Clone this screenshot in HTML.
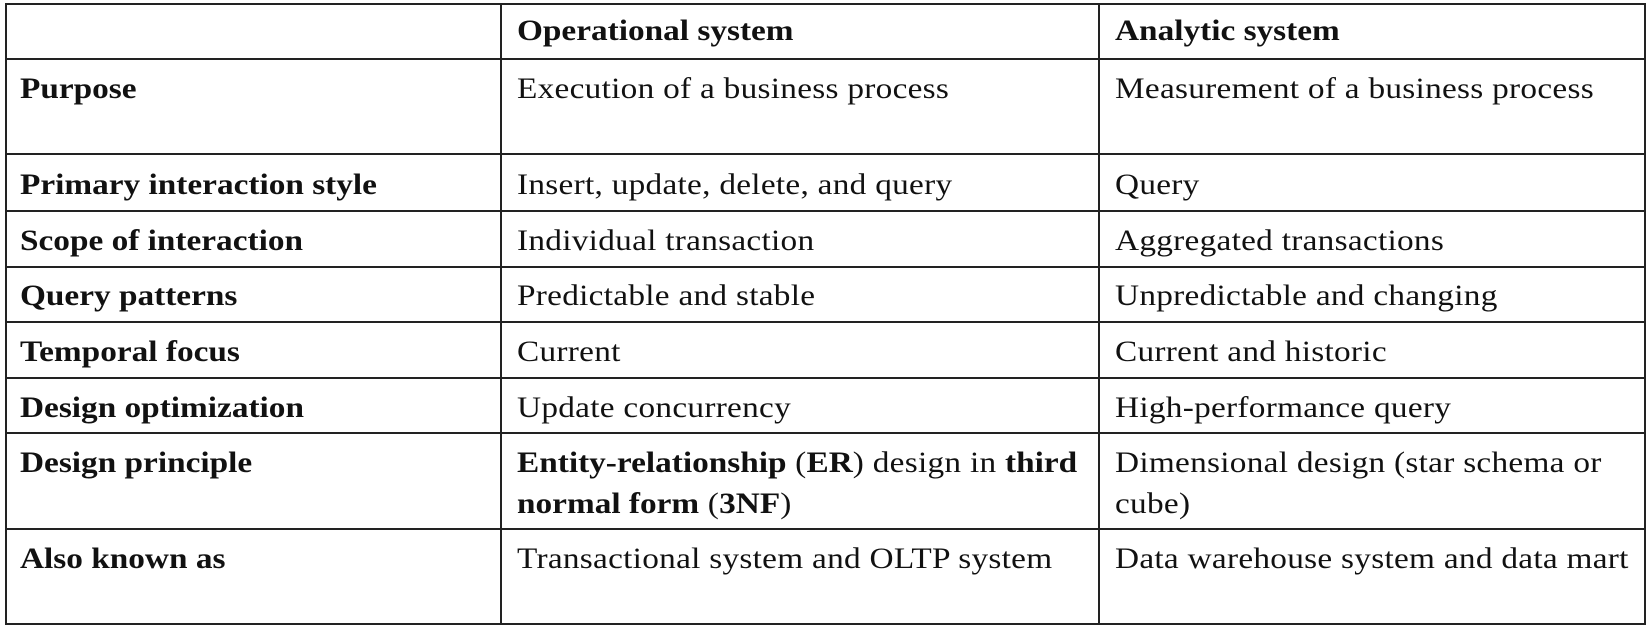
<!DOCTYPE html>
<html><head><meta charset="utf-8"><style>
body{margin:0;width:1650px;height:629px;background:#fff;position:relative;overflow:hidden;font-family:"Liberation Serif",serif;font-size:30px;color:#111}
.h{position:absolute;height:2px;background:#222;left:5px;width:1641px}
.v{position:absolute;width:2px;background:#222;top:3px;height:622px}
.t{position:absolute;line-height:41px;white-space:nowrap;transform:scaleX(1.11);transform-origin:0 0;letter-spacing:0.25px}
b{font-weight:bold;letter-spacing:0}
</style></head><body>
<div class="h" style="top:3px"></div>
<div class="h" style="top:58px"></div>
<div class="h" style="top:153px"></div>
<div class="h" style="top:210px"></div>
<div class="h" style="top:266px"></div>
<div class="h" style="top:321px"></div>
<div class="h" style="top:377px"></div>
<div class="h" style="top:432px"></div>
<div class="h" style="top:528px"></div>
<div class="h" style="top:623px"></div>
<div class="v" style="left:5px"></div>
<div class="v" style="left:500px"></div>
<div class="v" style="left:1098px"></div>
<div class="v" style="left:1644px"></div>

<div class="t" style="left:517px;top:10px"><b>Operational system</b></div>
<div class="t" style="left:1115px;top:10px"><b>Analytic system</b></div>

<div class="t" style="left:20px;top:68px"><b>Purpose</b></div>
<div class="t" style="left:517px;top:68px">Execution of a business process</div>
<div class="t" style="left:1115px;top:68px">Measurement of a business process</div>

<div class="t" style="left:20px;top:164px"><b>Primary interaction style</b></div>
<div class="t" style="left:517px;top:164px">Insert, update, delete, and query</div>
<div class="t" style="left:1115px;top:164px">Query</div>

<div class="t" style="left:20px;top:220px"><b>Scope of interaction</b></div>
<div class="t" style="left:517px;top:220px">Individual transaction</div>
<div class="t" style="left:1115px;top:220px">Aggregated transactions</div>

<div class="t" style="left:20px;top:275px"><b>Query patterns</b></div>
<div class="t" style="left:517px;top:275px">Predictable and stable</div>
<div class="t" style="left:1115px;top:275px">Unpredictable and changing</div>

<div class="t" style="left:20px;top:331px"><b>Temporal focus</b></div>
<div class="t" style="left:517px;top:331px">Current</div>
<div class="t" style="left:1115px;top:331px">Current and historic</div>

<div class="t" style="left:20px;top:387px"><b>Design optimization</b></div>
<div class="t" style="left:517px;top:387px">Update concurrency</div>
<div class="t" style="left:1115px;top:387px">High-performance query</div>

<div class="t" style="left:20px;top:442px"><b>Design principle</b></div>
<div class="t" style="left:517px;top:442px"><b>Entity-relationship</b> (<b>ER</b>) design in <b>third</b><br><b>normal form</b> (<b>3NF</b>)</div>
<div class="t" style="left:1115px;top:442px">Dimensional design (star schema or<br>cube)</div>

<div class="t" style="left:20px;top:538px"><b>Also known as</b></div>
<div class="t" style="left:517px;top:538px">Transactional system and OLTP system</div>
<div class="t" style="left:1115px;top:538px">Data warehouse system and data mart</div>
</body></html>
